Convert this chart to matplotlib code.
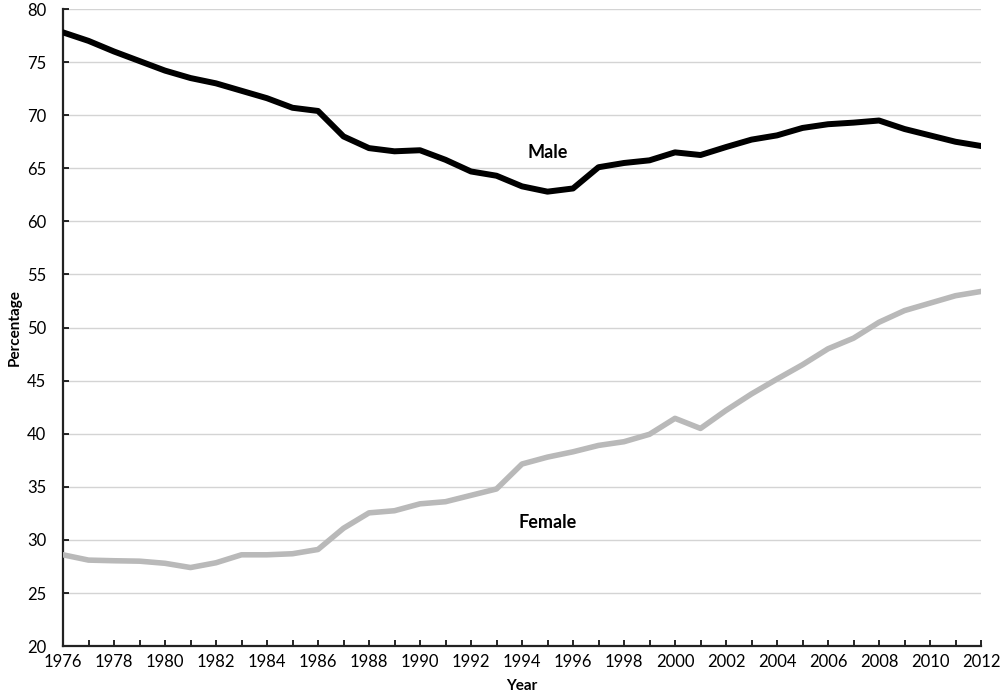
import matplotlib
matplotlib.use("Agg")
import matplotlib.pyplot as plt

# data
years = list(range(1976, 2013))
male = [77.8, 77.0, 76.0, 75.1, 74.2, 73.5, 73.0, 72.3, 71.6, 70.7,
        70.4, 68.0, 66.9, 66.6, 66.7, 65.8, 64.7, 64.3, 63.3, 62.8,
        63.1, 65.1, 65.5, 65.75, 66.5, 66.25, 67.0, 67.7, 68.1, 68.8,
        69.15, 69.3, 69.5, 68.7, 68.1, 67.5, 67.1]
female = [28.6, 28.1, 28.04, 28.0, 27.8, 27.4, 27.85, 28.6, 28.6, 28.7,
          29.1, 31.1, 32.55, 32.75, 33.4, 33.6, 34.2, 34.8, 37.15, 37.8,
          38.3, 38.9, 39.25, 39.95, 41.45, 40.5, 42.2, 43.75, 45.15, 46.5,
          48.0, 49.0, 50.5, 51.6, 52.3, 53.0, 53.4]
yticks = list(range(20, 81, 5))
xticks = list(range(1976, 2013, 2))

plt.rcParams["font.family"] = ["Lato", "DejaVu Sans"]

fig = plt.figure(figsize=(10, 6.94), dpi=100)
ax = fig.add_axes([0.063, 0.069, 0.918, 0.918])

ax.plot(years, male, color="black", lw=4.3, solid_joinstyle="round", zorder=3)
ax.plot(years, female, color="#b9b9b9", lw=4.0, solid_joinstyle="round", zorder=3)

ax.text(1995.0, 66.5, "Male", fontsize=13, fontweight="bold", ha="center", va="center")
ax.text(1995.0, 31.6, "Female", fontsize=13, fontweight="bold", ha="center", va="center")

ax.set_xlim(1976, 2012)
ax.set_ylim(20, 80)
ax.set_yticks(yticks)
ax.set_xticks(xticks)
ax.set_xticks(years, minor=True)
ax.grid(axis="y", color="#d4d4d4", lw=1.0)
ax.set_axisbelow(True)

for s in ["top", "right"]:
    ax.spines[s].set_visible(False)
for s in ["left", "bottom"]:
    ax.spines[s].set_linewidth(1.6)
    ax.spines[s].set_color("#222222")

ax.tick_params(axis="both", direction="in", length=4, width=1.2, labelsize=12)
ax.tick_params(axis="y", pad=12)
ax.tick_params(axis="x", pad=6)
ax.tick_params(axis="x", which="minor", direction="in", length=4, width=1.2)

ax.set_xlabel("Year", fontsize=11, fontweight="bold", labelpad=6)
ax.set_ylabel("Percentage", fontsize=11, fontweight="bold", labelpad=4)

fig.savefig("out.png", dpi=100)
